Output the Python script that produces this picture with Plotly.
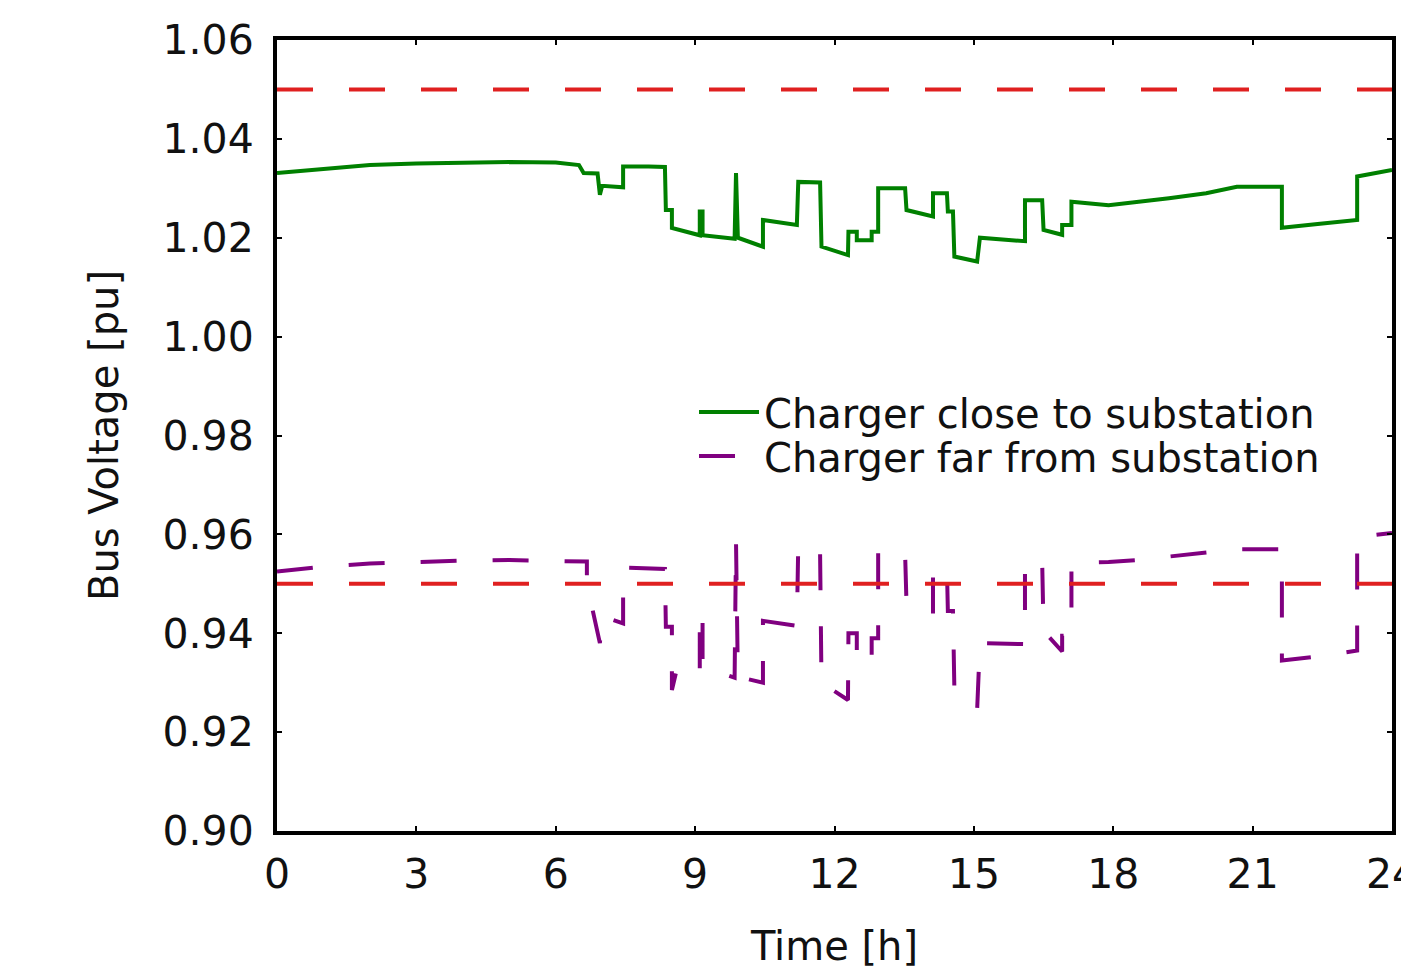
import plotly.graph_objects as go

# ---- data ----
t_close = [0, 1, 2, 3, 4, 5, 6, 6.5, 6.6, 6.9, 6.95, 7.0, 7.45, 7.45, 8.0, 8.35, 8.37, 8.5, 8.5,
           9.1, 9.1, 9.16, 9.16, 9.85, 9.88, 9.92, 10.46, 10.46, 11.19, 11.22, 11.69, 11.72,
           12.29, 12.3, 12.48, 12.48, 12.8, 12.8, 12.94, 12.94, 13.52, 13.55, 14.12, 14.12,
           14.42, 14.44, 14.55, 14.58, 15.07, 15.13, 16.1, 16.1, 16.47, 16.5, 16.9, 16.9,
           17.1, 17.1, 17.9, 18.5, 19.2, 20.0, 20.66, 21.63, 21.63, 22.4, 23.25, 23.25, 24]
v_close = [1.0331, 1.0340, 1.0347, 1.0350, 1.0352, 1.0353, 1.0352, 1.0347, 1.0331, 1.0330,
           1.0287, 1.0305, 1.0302, 1.0344, 1.0344, 1.0343, 1.0256, 1.0256, 1.0220,
           1.0205, 1.0253, 1.0253, 1.0205, 1.0198, 1.0331, 1.0200, 1.0182, 1.0236, 1.0226,
           1.0313, 1.0312, 1.0182, 1.0165, 1.0212, 1.0212, 1.0195, 1.0195, 1.0212, 1.0212,
           1.0300, 1.0300, 1.0256, 1.0243, 1.0290, 1.0290, 1.0253, 1.0253, 1.0162, 1.0152,
           1.0200, 1.0193, 1.0276, 1.0276, 1.0216, 1.0206, 1.0226, 1.0226, 1.0273, 1.0266,
           1.0272, 1.0280, 1.0290, 1.0303, 1.0303, 1.0220, 1.0228, 1.0236, 1.0324, 1.0337]

t_far = [0, 1, 2, 3, 4, 5, 6, 6.67, 6.67, 6.95, 7.0, 7.45, 7.45, 8.35, 8.37, 8.5, 8.5, 8.6,
         9.1, 9.1, 9.16, 9.16, 9.85, 9.88, 9.92, 10.46, 10.46, 11.19, 11.22, 11.69, 11.72,
         12.29, 12.3, 12.48, 12.48, 12.8, 12.8, 12.94, 12.94, 13.52, 13.55, 14.12, 14.12,
         14.42, 14.44, 14.55, 14.58, 15.07, 15.13, 16.1, 16.1, 16.47, 16.5, 16.9, 16.9,
         17.1, 17.1, 17.9, 18.5, 19.2, 20.0, 20.66, 21.63, 21.63, 22.4, 23.25, 23.25, 24]
v_far = [0.9525, 0.9535, 0.9541, 0.9545, 0.9547, 0.9548, 0.9547, 0.9545, 0.9500, 0.9380,
         0.9434, 0.9420, 0.9533, 0.9530, 0.9413, 0.9413, 0.9285, 0.9325,
         0.9312, 0.9445, 0.9445, 0.9332, 0.9310, 0.9585, 0.9312, 0.9300, 0.9425, 0.9415,
         0.9580, 0.9560, 0.9300, 0.9265, 0.9400, 0.9400, 0.9340, 0.9340, 0.9390, 0.9390,
         0.9568, 0.9560, 0.9460, 0.9440, 0.9530, 0.9530, 0.9445, 0.9445, 0.9290, 0.9245,
         0.9380, 0.9378, 0.9545, 0.9545, 0.9405, 0.9363, 0.9395, 0.9395, 0.9542, 0.9544,
         0.9548, 0.9555, 0.9565, 0.9570, 0.9570, 0.9345, 0.9353, 0.9365, 0.9595, 0.9603]

t_limit = [0, 24]
upper_limit = [1.05, 1.05]
lower_limit = [0.95, 0.95]

x_ticks = [0, 3, 6, 9, 12, 15, 18, 21, 24]
y_ticks = [0.90, 0.92, 0.94, 0.96, 0.98, 1.00, 1.02, 1.04, 1.06]

FONT = "DejaVu Sans"
DASH = "36px,36px"

fig = go.Figure()
fig.add_trace(go.Scatter(x=t_close, y=v_close, mode="lines",
                         name="Charger close to substation",
                         line=dict(color="#008000", width=4),
                         legend="legend"))
fig.add_trace(go.Scatter(x=t_far, y=v_far, mode="lines",
                         name="Charger far from substation",
                         line=dict(color="#800080", width=4, dash=DASH),
                         legend="legend2"))
for lim in (upper_limit, lower_limit):
    fig.add_trace(go.Scatter(x=t_limit, y=lim, mode="lines", showlegend=False,
                             line=dict(color="#e02020", width=4, dash=DASH)))

axis_common = dict(showgrid=False, zeroline=False, showline=True, linecolor="black",
                   linewidth=4, mirror="ticks", ticks="inside", ticklen=5, tickwidth=1.5,
                   tickcolor="black", ticklabeloverflow="allow", automargin=False,
                   tickfont=dict(family=FONT, size=41, color="#111111"))

fig.update_xaxes(range=[0, 24], tickvals=x_ticks, ticktext=[str(v) for v in x_ticks],
                 title=dict(text="Time [h]", font=dict(family=FONT, size=40, color="#111111"),
                            standoff=36),
                 ticklabelstandoff=4, **axis_common)
fig.update_yaxes(range=[0.90, 1.06], tickvals=y_ticks, ticktext=[f"{v:.2f}" for v in y_ticks],
                 title=dict(text="Bus Voltage [pu]", font=dict(family=FONT, size=40, color="#111111"),
                            standoff=33),
                 ticklabelstandoff=11, **axis_common)

legend_common = dict(xanchor="left", yanchor="middle", bgcolor="rgba(0,0,0,0)",
                     borderwidth=0, itemwidth=60,
                     font=dict(family=FONT, size=40, color="#111111"))
fig.update_layout(
    width=1401, height=976,
    margin=dict(l=277, r=9, t=40, b=145),
    paper_bgcolor="white", plot_bgcolor="white",
    legend=dict(x=0.374, y=0.5297, **legend_common),
    legend2=dict(x=0.374, y=0.474, **legend_common),
)

fig.write_html("out.html", post_script="document.body.style.margin='0';")
